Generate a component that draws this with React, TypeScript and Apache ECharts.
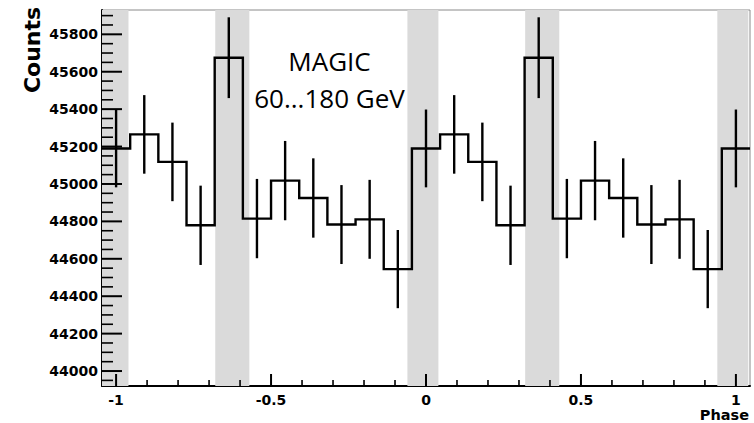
import React, { useEffect, useRef } from "react";
import * as echarts from "echarts";

// Counts per phase bin over one period (11 bins, bin centred at phase k/11)
const counts = [45190, 45265, 45118, 44779, 45675, 44815, 45018, 44925, 44783, 44811, 44545];
// Half length of each error bar (counts)
const errors = [208, 210, 210, 212, 216, 212, 212, 212, 211, 211, 209];
const binsPerPeriod = 11;
// Shaded phase ranges (P1 / P2)
const bands: [number, number][] = [
  [-1.06, -0.96],
  [-0.68, -0.57],
  [-0.06, 0.04],
  [0.32, 0.43],
  [0.94, 1.04],
];
const xTickValues = [-1, -0.5, 0, 0.5, 1];
const xTickLabels = ["-1", "-0.5", "0", "0.5", "1"];
const yTickValues = [44000, 44200, 44400, 44600, 44800, 45000, 45200, 45400, 45600, 45800];
const yTickLabels = ["44000", "44200", "44400", "44600", "44800", "45000", "45200", "45400", "45600", "45800"];
const titleLines = ["MAGIC", "60...180 GeV"];
const xTitle = "Phase";
const yTitle = "Counts";

const Y_MIN = 43920;
const Y_MAX = 45930;

const FONT = "DejaVu Sans";

export default function App() {
  const ref = useRef<HTMLDivElement>(null);

  useEffect(() => {
    if (!ref.current) return;
    const chart = echarts.init(ref.current, undefined, { renderer: "svg" });

    const halfBin = 1 / binsPerPeriod / 2;
    const xMin = -1 - halfBin;
    const xMax = 1 + halfBin;

    const stepData: number[][] = [];
    const errData: number[][] = [];
    for (let k = -binsPerPeriod; k <= binsPerPeriod; k++) {
      const idx = (k + binsPerPeriod) % binsPerPeriod;
      const c = k / binsPerPeriod;
      const v = counts[idx];
      stepData.push([c - halfBin, v], [c + halfBin, v]);
      errData.push([c, v, errors[idx]]);
    }

    // tick tables: [value, length, labelIndex(-1 = none)]
    const xTicks: number[][] = [];
    for (let i = -10; i <= 10; i++) {
      const v = i / 10;
      const li = xTickValues.findIndex((t) => Math.abs(t - v) < 1e-9);
      xTicks.push([v, li >= 0 ? 12 : 6, li]);
    }
    const yTicks: number[][] = [];
    for (let v = 43950; v <= 45900; v += 50) {
      const li = yTickValues.indexOf(v);
      yTicks.push([Y_MIN, v, li >= 0 ? 20 : 11, li]);
    }

    chart.setOption({
      animation: false,
      grid: {
        left: 102,
        right: 4,
        top: 10,
        bottom: 37,
        show: true,
        borderColor: "#8a8a8a",
        borderWidth: 1,
      },
      xAxis: {
        type: "value",
        min: xMin,
        max: xMax,
        position: "bottom",
        axisLine: { show: true, onZero: false, lineStyle: { color: "#000", width: 2 } },
        axisTick: { show: false },
        axisLabel: { show: false },
        splitLine: { show: false },
      },
      yAxis: {
        type: "value",
        min: Y_MIN,
        max: Y_MAX,
        position: "left",
        axisLine: { show: true, onZero: false, lineStyle: { color: "#000", width: 2 } },
        axisTick: { show: false },
        axisLabel: { show: false },
        splitLine: { show: false },
      },
      series: [
        {
          type: "custom",
          name: "bands",
          z: 1,
          data: bands.map((b) => [b[0], b[1]]),
          encode: { x: [0, 1] },
          renderItem: (params: any, api: any) => {
            const cs = params.coordSys;
            const a = api.coord([api.value(0), Y_MIN])[0];
            const b = api.coord([api.value(1), Y_MIN])[0];
            const x0 = Math.max(a, cs.x);
            const x1 = Math.min(b, cs.x + cs.width);
            return {
              type: "rect",
              shape: { x: x0, y: cs.y, width: x1 - x0, height: cs.height },
              style: { fill: "#dadada" },
            };
          },
        },
        {
          type: "line",
          name: "histogram",
          z: 3,
          data: stepData,
          symbol: "none",
          clip: true,
          lineStyle: { color: "#000", width: 2.4, join: "miter" },
        },
        {
          type: "custom",
          name: "errors",
          z: 4,
          data: errData,
          encode: { x: 0, y: 1 },
          renderItem: (_params: any, api: any) => {
            const x = api.value(0);
            const y = api.value(1);
            const e = api.value(2);
            const p1 = api.coord([x, y - e]);
            const p2 = api.coord([x, y + e]);
            return {
              type: "line",
              shape: { x1: p1[0], y1: p1[1], x2: p2[0], y2: p2[1] },
              style: { stroke: "#000", lineWidth: 2.4 },
            };
          },
        },
        {
          type: "custom",
          name: "xTicks",
          z: 6,
          data: xTicks,
          encode: { x: 0 },
          renderItem: (params: any, api: any) => {
            const cs = params.coordSys;
            const v = api.value(0);
            const len = api.value(1);
            const li = api.value(2);
            const px = api.coord([v, Y_MIN])[0];
            const bottom = cs.y + cs.height;
            const children: any[] = [
              {
                type: "line",
                shape: { x1: px, y1: bottom, x2: px, y2: bottom - len },
                style: { stroke: "#000", lineWidth: len > 8 ? 2 : 1.6 },
              },
            ];
            if (li >= 0) {
              children.push({
                type: "text",
                x: px,
                y: bottom + 7,
                style: {
                  text: xTickLabels[li],
                  fontFamily: FONT,
                  fontWeight: "bold",
                  fontSize: 14,
                  fill: "#000",
                  align: "center",
                  verticalAlign: "top",
                },
              });
            }
            return { type: "group", children };
          },
        },
        {
          type: "custom",
          name: "yTicks",
          z: 6,
          data: yTicks,
          encode: { x: 0, y: 1 },
          renderItem: (params: any, api: any) => {
            const cs = params.coordSys;
            const v = api.value(1);
            const len = api.value(2);
            const li = api.value(3);
            const py = api.coord([xMin, v])[1];
            const left = cs.x;
            const children: any[] = [
              {
                type: "line",
                shape: { x1: left, y1: py, x2: left + len, y2: py },
                style: { stroke: "#000", lineWidth: len > 15 ? 2 : 1.6 },
              },
            ];
            if (li >= 0) {
              children.push({
                type: "text",
                x: left - 4,
                y: py,
                style: {
                  text: yTickLabels[li],
                  fontFamily: FONT,
                  fontWeight: "bold",
                  fontSize: 14,
                  fill: "#000",
                  align: "right",
                  verticalAlign: "middle",
                },
              });
            }
            return { type: "group", children };
          },
        },
      ],
      graphic: [
        {
          type: "text",
          x: 32,
          y: 50,
          rotation: Math.PI / 2,
          style: {
            text: yTitle,
            fontFamily: FONT,
            fontWeight: "bold",
            fontSize: 22,
            fill: "#000",
            align: "center",
            verticalAlign: "middle",
          },
        },
        {
          type: "text",
          x: 749,
          y: 407,
          style: {
            text: xTitle,
            fontFamily: FONT,
            fontWeight: "bold",
            fontSize: 14.5,
            fill: "#000",
            align: "right",
            verticalAlign: "top",
          },
        },
        ...titleLines.map((t, i) => ({
          type: "text",
          x: 329.5,
          y: 61 + i * 37,
          z: 10,
          style: {
            text: t,
            fontFamily: "Open Sans",
            fontSize: 26,
            fill: "#000",
            align: "center",
            verticalAlign: "middle",
          },
        })),
      ],
    });

    return () => chart.dispose();
  }, []);

  return (
    <div
      ref={ref}
      style={{ position: "fixed", left: 0, top: 0, width: 754, height: 423, background: "#fff" }}
    />
  );
}
